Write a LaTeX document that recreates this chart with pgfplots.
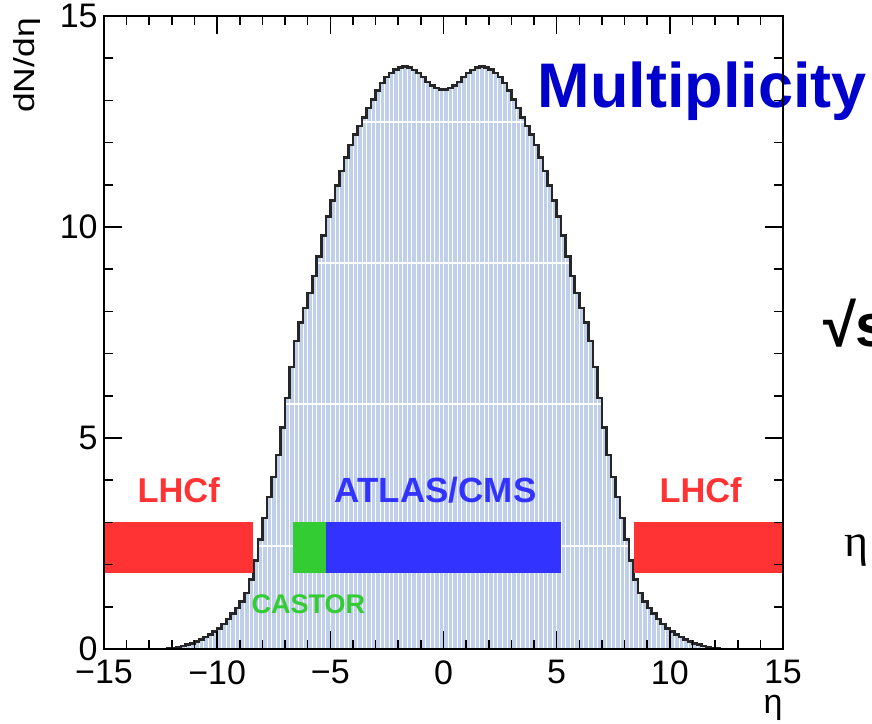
\documentclass[border=0pt]{standalone}
\usepackage{fontspec}
\setmainfont{Liberation Sans}
\newfontfamily\seriffont{Liberation Serif}
\usepackage{graphicx}
\usepackage{pgfplots}
\pgfplotsset{compat=1.18}
\usepackage{pgfplotstable}

\definecolor{histfill}{RGB}{192,207,234}
\definecolor{lhcfred}{RGB}{255,51,51}
\definecolor{castorgreen}{RGB}{51,204,51}
\definecolor{atlasblue}{RGB}{51,51,255}
\definecolor{titleblue}{RGB}{0,0,204}

% dN/deta histogram, bin width 0.2 (left bin edge, content)
\pgfplotstableread{
x y
-15.0 0
-12.2 0.005
-12.0 0.02
-11.8 0.04
-11.6 0.07
-11.4 0.10
-11.2 0.13
-11.0 0.18
-10.8 0.23
-10.6 0.28
-10.4 0.35
-10.2 0.42
-10.0 0.49
-9.8 0.59
-9.6 0.71
-9.4 0.84
-9.2 0.97
-9.0 1.12
-8.8 1.33
-8.6 1.65
-8.4 2.10
-8.2 2.60
-8.0 3.10
-7.8 3.60
-7.6 4.08
-7.4 4.60
-7.2 5.25
-7.0 5.95
-6.8 6.68
-6.6 7.30
-6.4 7.73
-6.2 8.08
-6.0 8.44
-5.8 8.84
-5.6 9.30
-5.4 9.80
-5.2 10.25
-5.0 10.63
-4.8 10.98
-4.6 11.33
-4.4 11.65
-4.2 11.94
-4.0 12.19
-3.8 12.39
-3.6 12.60
-3.4 12.82
-3.2 13.02
-3.0 13.23
-2.8 13.41
-2.6 13.55
-2.4 13.65
-2.2 13.73
-2.0 13.78
-1.8 13.80
-1.6 13.78
-1.4 13.72
-1.2 13.65
-1.0 13.55
-0.8 13.44
-0.6 13.35
-0.4 13.29
-0.2 13.26
0.0 13.26
0.2 13.29
0.4 13.35
0.6 13.44
0.8 13.55
1.0 13.65
1.2 13.72
1.4 13.78
1.6 13.80
1.8 13.78
2.0 13.73
2.2 13.65
2.4 13.55
2.6 13.41
2.8 13.23
3.0 13.02
3.2 12.82
3.4 12.60
3.6 12.39
3.8 12.19
4.0 11.94
4.2 11.65
4.4 11.33
4.6 10.98
4.8 10.63
5.0 10.25
5.2 9.80
5.4 9.30
5.6 8.84
5.8 8.44
6.0 8.08
6.2 7.73
6.4 7.30
6.6 6.68
6.8 5.95
7.0 5.25
7.2 4.60
7.4 4.08
7.6 3.60
7.8 3.10
8.0 2.60
8.2 2.10
8.4 1.65
8.6 1.33
8.8 1.12
9.0 0.97
9.2 0.84
9.4 0.71
9.6 0.59
9.8 0.49
10.0 0.42
10.2 0.35
10.4 0.28
10.6 0.23
10.8 0.18
11.0 0.13
11.2 0.10
11.4 0.07
11.6 0.04
11.8 0.02
12.0 0.005
12.2 0
15.0 0
}\histtable

\begin{document}
\begin{tikzpicture}
\begin{axis}[
  at={(0,0)}, anchor=south west,
  scale only axis, width=339.5pt, height=316.5pt,
  xmin=-15, xmax=15, ymin=0, ymax=15,
  axis on top, clip=false,
  axis line style={line width=0.9pt},
  xtick={-15,-10,-5,0,5,10,15},
  xticklabels={−15,−10,−5,0,5,10,15},
  ytick={0,5,10,15},
  yticklabels={0,5,10,15},
  minor x tick num=4, minor y tick num=4,
  tick align=inside,
  major tick length=9pt, minor tick length=4.5pt,
  tick style={black, line width=0.8pt},
  xticklabel style={font=\fontsize{17}{17}\selectfont, inner sep=0pt, yshift=-5.5pt},
  yticklabel style={font=\fontsize{17}{17}\selectfont, inner sep=0pt, xshift=-3pt},
  xlabel={η},
  xlabel style={at={(axis description cs:1,0)}, anchor=north east, inner sep=0pt,
                yshift=-23pt, font=\fontsize{17}{17}\selectfont},
  ylabel={\scalebox{1.22}[1]{dN/dη}},
  ylabel style={at={(axis description cs:-0.1134,0.997)}, anchor=east, inner sep=0pt,
                font=\fontsize{14.5}{14}\selectfont},
]
  % histogram body with bin separators
  \addplot[ybar interval, fill=histfill, draw=white, line width=0.35pt] table[x=x, y=y] {\histtable};
  % horizontal white stripes inside the filled area
  \addplot[white, line width=0.7pt] coordinates {(-3.6,12.49) (3.6,12.49)};
  \addplot[white, line width=0.7pt] coordinates {(-5.6,9.15) (5.6,9.15)};
  \addplot[white, line width=0.7pt] coordinates {(-7.0,5.81) (7.0,5.81)};
  \addplot[white, line width=0.7pt] coordinates {(-8.2,2.44) (8.2,2.44)};
  % histogram outline
  \addplot[const plot mark left, black!85, line width=1.3pt] table[x=x, y=y] {\histtable};

  % detector acceptance bands
  \addplot[fill=lhcfred, draw=none] coordinates {(-15,1.8) (-8.4,1.8) (-8.4,3.0) (-15,3.0)} --cycle;
  \addplot[fill=castorgreen, draw=none] coordinates {(-6.63,1.8) (-5.21,1.8) (-5.21,3.0) (-6.63,3.0)} --cycle;
  \addplot[fill=atlasblue, draw=none] coordinates {(-5.21,1.8) (5.21,1.8) (5.21,3.0) (-5.21,3.0)} --cycle;
  \addplot[fill=lhcfred, draw=none] coordinates {(8.4,1.8) (15,1.8) (15,3.0) (8.4,3.0)} --cycle;

  \node[anchor=base, inner sep=0pt, text=lhcfred, font=\fontsize{17.2}{17}\selectfont\bfseries] at (axis cs:-11.7,3.48) {LHCf};
  \node[anchor=base, inner sep=0pt, text=atlasblue, font=\fontsize{17.5}{17}\selectfont\bfseries] at (axis cs:-0.35,3.48) {ATLAS/CMS};
  \node[anchor=base, inner sep=0pt, text=lhcfred, font=\fontsize{17.2}{17}\selectfont\bfseries] at (axis cs:11.36,3.48) {LHCf};
  \node[anchor=base, inner sep=0pt, text=castorgreen, font=\fontsize{13.5}{13}\selectfont\bfseries] at (axis cs:-5.97,0.85) {CASTOR};

  \node[anchor=base west, inner sep=0pt, text=titleblue, font=\fontsize{31.5}{32}\selectfont\bfseries] at (axis cs:4.15,12.82) {Multiplicity};
  \node[anchor=base west, inner sep=0pt, font=\fontsize{30}{30}\selectfont\bfseries] at (axis cs:16.75,7.16) {√s};
  \node[anchor=base west, inner sep=0pt, font=\fontsize{23}{23}\selectfont\seriffont] at (axis cs:17.7,2.2) {η};
\end{axis}
\pgfresetboundingbox
\path[use as bounding box] (-52pt,-37pt) rectangle (384pt,324.5pt);
\end{tikzpicture}
\end{document}
